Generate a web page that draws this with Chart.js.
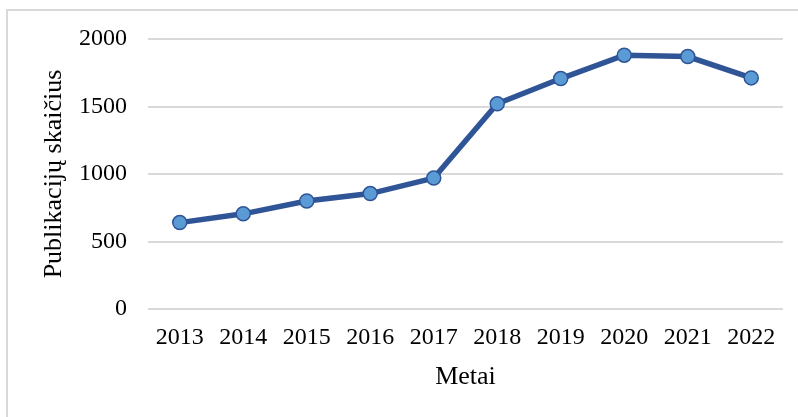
<!DOCTYPE html>
<html>
<head>
<meta charset="utf-8">
<script src="https://cdn.jsdelivr.net/npm/chart.js@4.4.1/dist/chart.umd.min.js"></script>
<style>
  html, body { margin: 0; padding: 0; background: #fff; }
  body { width: 798px; height: 417px; position: relative; overflow: hidden; }
  #frame { position: absolute; left: 6px; top: 9px; width: 800px; height: 420px; border: 2px solid #d9d9d9; box-sizing: border-box; }
  #wrap { position: absolute; left: 0; top: 0; width: 798px; height: 417px; }
</style>
</head>
<body>
<div id="frame"></div>
<div id="wrap"><canvas id="pubChart"></canvas></div>
<script>
const years = ['2013', '2014', '2015', '2016', '2017', '2018', '2019', '2020', '2021', '2022'];
const publications = [640, 705, 800, 855, 970, 1520, 1707, 1880, 1870, 1712];
const yTicks = [0, 500, 1000, 1500, 2000];

const serif = 'Liberation Serif, Times New Roman, serif';

function makeChart() {
    const ctx = document.getElementById('pubChart').getContext('2d');
    new Chart(ctx, {
        type: 'line',
        data: {
            labels: years,
            datasets: [{
                label: 'Publikacijų skaičius',
                data: publications,
                borderColor: '#2f5597',
                borderWidth: 5.5,
                backgroundColor: '#5b9bd5',
                pointBackgroundColor: '#5b9bd5',
                pointBorderColor: '#2f5597',
                pointBorderWidth: 1.5,
                pointRadius: 7,
                tension: 0,
                fill: false
            }]
        },
        options: {
            responsive: true,
            maintainAspectRatio: false,
            animation: false,
            layout: { padding: { left: 6, right: 15, top: 39, bottom: 0 } },
            plugins: {
                legend: { display: false },
                tooltip: { enabled: false }
            },
            scales: {
                x: {
                    offset: true,
                    grid: { display: false, drawTicks: false },
                    border: { display: false },
                    ticks: {
                        color: '#000',
                        font: { family: serif, size: 24 },
                        padding: 14,
                        maxRotation: 0
                    },
                    title: {
                        display: true,
                        text: 'Metai',
                        color: '#000',
                        font: { family: serif, size: 26 },
                        padding: { top: 0, bottom: 24 }
                    },
                    afterFit: (scale) => { scale.height = 108; }
                },
                y: {
                    min: 0,
                    max: 2000,
                    afterBuildTicks: (scale) => { scale.ticks = yTicks.map(v => ({ value: v })); },
                    grid: { color: '#d9d9d9', lineWidth: 2, drawTicks: false },
                    border: { display: false },
                    ticks: {
                        color: '#000',
                        font: { family: serif, size: 24 },
                        padding: 21,
                        callback: (v) => String(v)
                    },
                    title: {
                        display: true,
                        text: 'Publikacijų skaičius',
                        color: '#000',
                        font: { family: serif, size: 26 },
                        padding: { top: 33, bottom: 0 }
                    },
                    afterFit: (scale) => { scale.width = 142; }
                }
            }
        }
    });
}

makeChart();
</script>
</body>
</html>
